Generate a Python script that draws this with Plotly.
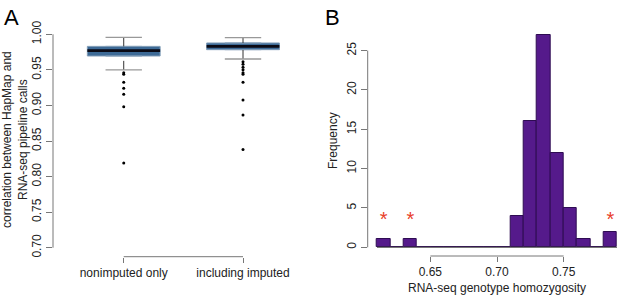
import plotly.graph_objects as go

W, H = 617, 295
def px(x): return x / W
def py(y): return 1 - y / H

# ---------------- Panel A data ----------------
box_labels = ["nonimputed only", "including imputed"]
box_pos = [0, 1]
box_q1 = [0.9695, 0.9784]
box_median = [0.977, 0.983]
box_q3 = [0.983, 0.9878]
box_lower = [0.950, 0.9653]
box_upper = [0.9958, 0.9953]
outliers_nonimputed = [0.946, 0.944, 0.9326, 0.924, 0.9157, 0.898, 0.819]
outliers_imputed = [0.9615, 0.958, 0.9536, 0.950, 0.946, 0.944, 0.9326, 0.9077, 0.8867, 0.838]
a_yticks = [0.70, 0.75, 0.80, 0.85, 0.90, 0.95, 1.00]

# ---------------- Panel B data ----------------
bin_left = [0.61, 0.62, 0.63, 0.64, 0.65, 0.66, 0.67, 0.68, 0.69, 0.70,
            0.71, 0.72, 0.73, 0.74, 0.75, 0.76, 0.77, 0.78]
bin_count = [1, 0, 1, 0, 0, 0, 0, 0, 0, 0, 4, 16, 27, 12, 5, 1, 0, 2]
bin_width = 0.01
star_x = [0.615, 0.635, 0.785]
star_y = [3.4, 3.4, 3.4]
b_xticks = [0.65, 0.70, 0.75]
b_yticks = [0, 5, 10, 15, 20, 25]

fig = go.Figure()

BOXW = 0.61
for p, lo, q1, q3, up in zip(box_pos, box_lower, box_q1, box_q3, box_upper):
    fig.add_trace(go.Scatter(x=[p, p], y=[q3, up], mode="lines",
                             line=dict(color="#333333", width=1, dash="dash"),
                             xaxis="x", yaxis="y", showlegend=False, hoverinfo="skip"))
    fig.add_trace(go.Scatter(x=[p, p], y=[lo, q1], mode="lines",
                             line=dict(color="#333333", width=1, dash="dash"),
                             xaxis="x", yaxis="y", showlegend=False, hoverinfo="skip"))
    fig.add_trace(go.Scatter(x=[p - BOXW / 4, p + BOXW / 4], y=[up, up], mode="lines",
                             line=dict(color="#999999", width=1.3),
                             xaxis="x", yaxis="y", showlegend=False, hoverinfo="skip"))
    fig.add_trace(go.Scatter(x=[p - BOXW / 4, p + BOXW / 4], y=[lo, lo], mode="lines",
                             line=dict(color="#999999", width=1.3),
                             xaxis="x", yaxis="y", showlegend=False, hoverinfo="skip"))

fig.add_trace(go.Box(x=box_pos, q1=box_q1, median=box_median, q3=box_q3,
                     lowerfence=box_q1, upperfence=box_q3, width=BOXW,
                     fillcolor="#3d6a96", line=dict(color="#7f9bb6", width=1),
                     boxpoints=False, xaxis="x", yaxis="y", showlegend=False,
                     hoverinfo="skip"))
for p, m in zip(box_pos, box_median):
    fig.add_trace(go.Scatter(x=[p - BOXW / 2, p + BOXW / 2], y=[m, m], mode="lines",
                             line=dict(color="#0a0a14", width=2.6),
                             xaxis="x", yaxis="y", showlegend=False, hoverinfo="skip"))

fig.add_trace(go.Scatter(x=[box_pos[0]] * len(outliers_nonimputed), y=outliers_nonimputed,
                         mode="markers", marker=dict(color="black", size=3),
                         xaxis="x", yaxis="y", showlegend=False))
fig.add_trace(go.Scatter(x=[box_pos[1]] * len(outliers_imputed), y=outliers_imputed,
                         mode="markers", marker=dict(color="black", size=3),
                         xaxis="x", yaxis="y", showlegend=False))

fig.add_trace(go.Scatter(x=[bin_left[0], bin_left[-1] + bin_width], y=[0, 0], mode="lines",
                         line=dict(color="#555555", width=1),
                         xaxis="x2", yaxis="y2", showlegend=False, hoverinfo="skip"))
fig.add_trace(go.Bar(x=[b + bin_width / 2 for b in bin_left], y=bin_count, width=bin_width,
                     marker=dict(color="#551a8b", line=dict(color="#2e0c52", width=1)),
                     xaxis="x2", yaxis="y2", showlegend=False))
fig.add_trace(go.Scatter(x=star_x, y=star_y, mode="text", text=["*"] * len(star_x),
                         textfont=dict(color="#e8402a", size=20, family="Liberation Sans"),
                         textposition="middle center",
                         xaxis="x2", yaxis="y2", showlegend=False))

A_x0, A_x1 = 53, 300
A_ybot, A_ytop = 256.7, 25
B_x0, B_x1 = 367.7, 617
B_ybot, B_ytop = 256, 30

font = dict(family="Liberation Sans, Arial", size=12, color="#222222")
common = dict(showgrid=False, zeroline=False, showline=False, automargin=False,
              tickcolor="#777777", tickfont=font, ticks="outside")

fig.update_layout(
    width=W, height=H, margin=dict(l=0, r=0, t=0, b=0, autoexpand=False),
    paper_bgcolor="white", plot_bgcolor="white",
    font=font, bargap=0,
    xaxis=dict(domain=[px(A_x0), px(A_x1)], range=[-0.593, (A_x1 - 123.7) / 119.3],
               anchor="y", tickvals=box_pos, ticktext=box_labels, ticklen=5, **common),
    yaxis=dict(domain=[py(A_ybot), py(A_ytop)], anchor="x",
               range=[0.70 - (A_ybot - 247.7) / 712, 1.00 + (34.3 - A_ytop) / 712],
               tickvals=a_yticks, ticktext=[f"{v:.2f}" for v in a_yticks],
               tickangle=-90, ticklen=6, **common),
    xaxis2=dict(domain=[px(B_x0), px(B_x1)], range=[0.603, 0.79], anchor="y2",
                tickvals=b_xticks, ticktext=[f"{v:.2f}" for v in b_xticks],
                ticklen=5, **common),
    yaxis2=dict(domain=[py(B_ybot), py(B_ytop)], anchor="x2",
                range=[-(B_ybot - 247.3) / 7.87, (247.3 - B_ytop) / 7.87],
                tickvals=b_yticks, ticktext=[str(v) for v in b_yticks],
                tickangle=-90, ticklen=6, **common),
)

shapes = [
    dict(type="line", xref="paper", yref="y", x0=px(A_x0), x1=px(A_x0),
         y0=a_yticks[0], y1=a_yticks[-1], line=dict(color="#777777", width=1)),
    dict(type="line", xref="x", yref="paper", x0=box_pos[0], x1=box_pos[-1],
         y0=py(A_ybot), y1=py(A_ybot), line=dict(color="#777777", width=1)),
    dict(type="line", xref="paper", yref="y2", x0=px(B_x0), x1=px(B_x0),
         y0=b_yticks[0], y1=b_yticks[-1], line=dict(color="#777777", width=1)),
    dict(type="line", xref="x2", yref="paper", x0=b_xticks[0], x1=b_xticks[-1],
         y0=py(B_ybot), y1=py(B_ybot), line=dict(color="#777777", width=1)),
]
fig.update_layout(shapes=shapes)

ann = [
    dict(text="A", x=px(2), y=py(3), xanchor="left", yanchor="top",
         font=dict(family="Liberation Sans, Arial", size=22, color="black")),
    dict(text="B", x=px(323), y=py(3), xanchor="left", yanchor="top",
         font=dict(family="Liberation Sans, Arial", size=22, color="black")),
    dict(text="correlation between HapMap and<br>RNA-seq pipeline calls", x=px(15), y=py(140),
         textangle=-90, xanchor="center", yanchor="middle",
         font=dict(family="Liberation Sans, Arial", size=12, color="#222222")),
    dict(text="Frequency", x=px(333), y=py(141), textangle=-90,
         xanchor="center", yanchor="middle",
         font=dict(family="Liberation Sans, Arial", size=12, color="#222222")),
    dict(text="RNA-seq genotype homozygosity", x=px(497), y=py(287.5),
         xanchor="center", yanchor="middle",
         font=dict(family="Liberation Sans, Arial", size=12, color="#222222")),
]
for a in ann:
    a["showarrow"] = False
    a["xref"] = "paper"
    a["yref"] = "paper"
fig.update_layout(annotations=ann)

fig.write_html("out.html", config={"displayModeBar": False},
               post_script="document.body.style.margin='0';document.body.style.overflow='hidden';")
